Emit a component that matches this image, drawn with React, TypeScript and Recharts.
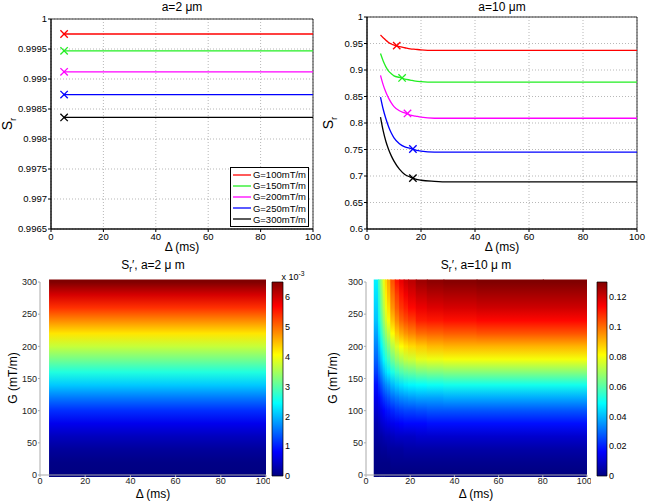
import { ComposedChart, Line, XAxis, YAxis, CartesianGrid, ReferenceArea, ReferenceDot, Legend } from "recharts"

// Delta (ms) sample points for the S_r curves
const DELTA = [5, 6, 7, 8, 9, 10, 12, 14, 16, 18, 20, 25, 30, 40, 60, 80, 100]
const X_TICKS = [0, 20, 40, 60, 80, 100]

const G_LABELS = ["G=100mT/m", "G=150mT/m", "G=200mT/m", "G=250mT/m", "G=300mT/m"]
const G_COLORS = ["#ff0000", "#22ee22", "#ff00ff", "#0000ff", "#000000"]
const KEYS = ["g100", "g150", "g200", "g250", "g300"]

// a = 2 um : flat curves
const SR2_G100 = [0.99975, 0.99975, 0.99975, 0.99975, 0.99975, 0.99975, 0.99975, 0.99975, 0.99975, 0.99975, 0.99975, 0.99975, 0.99975, 0.99975, 0.99975, 0.99975, 0.99975]
const SR2_G150 = [0.99947, 0.99947, 0.99947, 0.99947, 0.99947, 0.99947, 0.99947, 0.99947, 0.99947, 0.99947, 0.99947, 0.99947, 0.99947, 0.99947, 0.99947, 0.99947, 0.99947]
const SR2_G200 = [0.99912, 0.99912, 0.99912, 0.99912, 0.99912, 0.99912, 0.99912, 0.99912, 0.99912, 0.99912, 0.99912, 0.99912, 0.99912, 0.99912, 0.99912, 0.99912, 0.99912]
const SR2_G250 = [0.99874, 0.99874, 0.99874, 0.99874, 0.99874, 0.99874, 0.99874, 0.99874, 0.99874, 0.99874, 0.99874, 0.99874, 0.99874, 0.99874, 0.99874, 0.99874, 0.99874]
const SR2_G300 = [0.99836, 0.99836, 0.99836, 0.99836, 0.99836, 0.99836, 0.99836, 0.99836, 0.99836, 0.99836, 0.99836, 0.99836, 0.99836, 0.99836, 0.99836, 0.99836, 0.99836]
const SR2_MARK_D = [5, 5, 5, 5, 5]
const SR2_MARK_S = [0.99975, 0.99947, 0.99912, 0.99874, 0.99836]
const SR2_TICKS = [0.9965, 0.997, 0.9975, 0.998, 0.9985, 0.999, 0.9995, 1]

// a = 10 um
const SR10_G100 = [0.966, 0.961, 0.956, 0.952, 0.949, 0.947, 0.944, 0.942, 0.94, 0.939, 0.938, 0.937, 0.937, 0.937, 0.937, 0.937, 0.937]
const SR10_G150 = [0.931, 0.917, 0.906, 0.898, 0.893, 0.889, 0.886, 0.883, 0.881, 0.879, 0.878, 0.877, 0.877, 0.877, 0.877, 0.877, 0.877]
const SR10_G200 = [0.89, 0.872, 0.858, 0.847, 0.838, 0.831, 0.823, 0.819, 0.815, 0.813, 0.811, 0.809, 0.809, 0.809, 0.809, 0.809, 0.809]
const SR10_G250 = [0.849, 0.826, 0.808, 0.793, 0.781, 0.772, 0.761, 0.755, 0.752, 0.749, 0.747, 0.745, 0.745, 0.745, 0.745, 0.745, 0.745]
const SR10_G300 = [0.811, 0.785, 0.765, 0.75, 0.738, 0.728, 0.713, 0.703, 0.698, 0.694, 0.692, 0.69, 0.689, 0.689, 0.689, 0.689, 0.689]
const SR10_MARK_D = [11, 13, 15, 17, 17]
const SR10_MARK_S = [0.946, 0.885, 0.818, 0.751, 0.696]
const SR10_TICKS = [0.6, 0.65, 0.7, 0.75, 0.8, 0.85, 0.9, 0.95, 1]

// heat maps: G rows (mT/m)
const G_ROWS = [0, 20, 40, 60, 80, 100, 120, 140, 160, 180, 200, 220, 240, 260, 280, 300]
const G_TICKS = [0, 50, 100, 150, 200, 250, 300]

// S_r', a=2 um (x 1e-3), same for every Delta
const SP2_BY_G = [0, 0.05, 0.18, 0.4, 0.7, 1.1, 1.58, 2.1, 2.64, 3.18, 3.7, 4.22, 4.8, 5.38, 5.95, 6.5]
const SP2_MAX = 6.5
const SP2_CB_TICKS = [0, 1, 2, 3, 4, 5, 6]

// S_r', a=10 um, rows = G_ROWS, columns = SP10_DELTA
const SP10_DELTA = [5, 6, 7, 8, 9, 10, 12, 14, 16, 18, 20, 25, 30, 40, 60, 100]
const SP10_GRID = [
  [0, 0, 0, 0, 0, 0, 0, 0, 0, 0, 0, 0, 0, 0, 0, 0],
  [0.001, 0.001, 0.001, 0.001, 0.001, 0.001, 0.002, 0.002, 0.002, 0.002, 0.002, 0.002, 0.002, 0.002, 0.002, 0.002],
  [0.002, 0.002, 0.003, 0.003, 0.003, 0.004, 0.004, 0.004, 0.004, 0.005, 0.005, 0.005, 0.005, 0.005, 0.005, 0.005],
  [0.004, 0.005, 0.005, 0.006, 0.007, 0.007, 0.008, 0.009, 0.009, 0.009, 0.009, 0.01, 0.01, 0.01, 0.01, 0.01],
  [0.006, 0.008, 0.01, 0.011, 0.012, 0.013, 0.014, 0.015, 0.016, 0.017, 0.017, 0.017, 0.018, 0.018, 0.018, 0.018],
  [0.01, 0.012, 0.014, 0.016, 0.018, 0.019, 0.021, 0.023, 0.024, 0.025, 0.025, 0.026, 0.027, 0.027, 0.027, 0.027],
  [0.014, 0.017, 0.02, 0.023, 0.025, 0.027, 0.03, 0.032, 0.034, 0.035, 0.036, 0.037, 0.037, 0.038, 0.038, 0.038],
  [0.018, 0.023, 0.027, 0.031, 0.034, 0.036, 0.04, 0.043, 0.045, 0.047, 0.048, 0.049, 0.05, 0.051, 0.051, 0.051],
  [0.024, 0.03, 0.035, 0.04, 0.044, 0.047, 0.052, 0.056, 0.059, 0.061, 0.062, 0.064, 0.065, 0.066, 0.066, 0.066],
  [0.029, 0.036, 0.042, 0.048, 0.053, 0.057, 0.063, 0.068, 0.071, 0.074, 0.075, 0.078, 0.079, 0.08, 0.08, 0.08],
  [0.033, 0.041, 0.048, 0.055, 0.06, 0.065, 0.072, 0.077, 0.081, 0.084, 0.086, 0.088, 0.09, 0.091, 0.091, 0.091],
  [0.037, 0.046, 0.055, 0.062, 0.068, 0.073, 0.081, 0.088, 0.092, 0.095, 0.097, 0.1, 0.101, 0.102, 0.103, 0.103],
  [0.041, 0.051, 0.06, 0.068, 0.075, 0.08, 0.089, 0.096, 0.101, 0.104, 0.106, 0.11, 0.111, 0.112, 0.113, 0.113],
  [0.043, 0.054, 0.064, 0.072, 0.079, 0.085, 0.095, 0.102, 0.107, 0.11, 0.113, 0.116, 0.118, 0.119, 0.12, 0.12],
  [0.045, 0.056, 0.066, 0.075, 0.083, 0.089, 0.099, 0.106, 0.111, 0.115, 0.118, 0.121, 0.123, 0.124, 0.125, 0.125],
  [0.047, 0.059, 0.069, 0.078, 0.086, 0.092, 0.103, 0.111, 0.116, 0.12, 0.122, 0.126, 0.128, 0.129, 0.13, 0.13],
]
const SP10_MAX = 0.13
const SP10_CB_TICKS = [0, 0.02, 0.04, 0.06, 0.08, 0.1, 0.12]

const HEAT_TOP = 304
const HEAT_BOTTOM = -3

const FONT = "'Liberation Sans', Arial, Helvetica, sans-serif"

const jet = (t: number) => {
  const c = (v: number) => Math.round(255 * Math.min(1, Math.max(0, v)))
  return `rgb(${c(1.5 - Math.abs(4 * t - 3))},${c(1.5 - Math.abs(4 * t - 2))},${c(1.5 - Math.abs(4 * t - 1))})`
}
// colormap stops, listed top (max) to bottom (0)
const JET_STOPS = [1, 0.875, 0.625, 0.375, 0.125, 0]

const toRows = (series: number[][]) =>
  DELTA.map((d, i) => {
    const row: Record<string, number> = { d }
    KEYS.forEach((k, j) => (row[k] = series[j][i]))
    return row
  })

const rowsA2 = toRows([SR2_G100, SR2_G150, SR2_G200, SR2_G250, SR2_G300])
const rowsA10 = toRows([SR10_G100, SR10_G150, SR10_G200, SR10_G250, SR10_G300])

const Cross = ({ cx, cy, color }: any) => (
  <g stroke={color} strokeWidth={1.3}>
    <line x1={cx - 3.7} y1={cy - 3.7} x2={cx + 3.7} y2={cy + 3.7} />
    <line x1={cx - 3.7} y1={cy + 3.7} x2={cx + 3.7} y2={cy - 3.7} />
  </g>
)

const LegendBox = () => (
  <div style={{ border: "0.8px solid #000", background: "#fff", padding: "1px 2px", fontSize: 9.5, lineHeight: "11.2px" }}>
    {G_LABELS.map((name, i) => (
      <div key={name} style={{ display: "flex", alignItems: "center" }}>
        <svg width={19} height={6} style={{ marginRight: 2 }}>
          <line x1={0} y1={3} x2={19} y2={3} stroke={G_COLORS[i]} strokeWidth={1.3} />
        </svg>
        {name}
      </div>
    ))}
  </div>
)

const Text = ({ x, y, size = 12, rotate = false, children }: any) => (
  <div
    style={{
      position: "absolute",
      left: x,
      top: y,
      transform: `translate(-50%, -50%)${rotate ? " rotate(-90deg)" : ""}`,
      fontSize: size,
      lineHeight: 1,
      whiteSpace: "nowrap",
    }}
  >
    {children}
  </div>
)

function SrChart({ left, rows, domain, ticks, yWidth, right, top, markD, markS, legend }: any) {
  return (
    <div style={{ position: "absolute", left, top: 0 }}>
      <ComposedChart width={323} height={256} data={rows} margin={{ top, right, bottom: 0, left: 6 }}>
        <CartesianGrid stroke="#999" strokeDasharray="1 2" strokeWidth={0.7} />
        <XAxis
          type="number"
          dataKey="d"
          domain={[0, 100]}
          ticks={X_TICKS}
          height={27}
          tickSize={3}
          tickMargin={1}
          stroke="#000"
          tick={{ fontSize: 9.5, fill: "#000" }}
          allowDataOverflow
        />
        <YAxis
          type="number"
          domain={domain}
          ticks={ticks}
          width={yWidth}
          tickSize={3}
          tickMargin={1}
          stroke="#000"
          tick={{ fontSize: 9.5, fill: "#000" }}
          allowDataOverflow
        />
        <ReferenceArea x1={0} x2={100} y1={domain[0]} y2={domain[1]} fill="none" stroke="#000" strokeWidth={0.8} ifOverflow="visible" />
        {KEYS.map((k, i) => (
          <Line
            key={k}
            dataKey={k}
            name={G_LABELS[i]}
            type="monotone"
            stroke={G_COLORS[i]}
            strokeWidth={1.3}
            dot={false}
            isAnimationActive={false}
          />
        ))}
        {markD.map((d: number, i: number) => (
          <ReferenceDot key={i} x={d} y={markS[i]} ifOverflow="visible" shape={(p: any) => <Cross cx={p.cx} cy={p.cy} color={G_COLORS[i]} />} />
        ))}
        {legend && (
          <Legend
            layout="vertical"
            align="center"
            verticalAlign="middle"
            wrapperStyle={{ left: 230, top: 167, width: 79 }}
            content={() => <LegendBox />}
          />
        )}
      </ComposedChart>
    </div>
  )
}

function HeatChart({ left, width, yWidth, id, columns }: any) {
  return (
    <div style={{ position: "absolute", left, top: 256 }}>
      <ComposedChart width={width} height={246} margin={{ top: 26, right: 4, bottom: 0, left: 8 }}>
        <defs>
          {columns.map((c: any, j: number) => (
            <linearGradient key={j} id={`${id}${j}`} x1="0" y1="0" x2="0" y2="1">
              {c.stops.map((s: any, k: number) => (
                <stop key={k} offset={s.offset} stopColor={s.color} />
              ))}
            </linearGradient>
          ))}
        </defs>
        <XAxis
          type="number"
          dataKey="d"
          domain={[0, 100]}
          ticks={X_TICKS}
          height={27}
          tickSize={2}
          tickMargin={1}
          stroke="#aaa"
          tick={{ fontSize: 9, fill: "#222" }}
          allowDataOverflow
        />
        <YAxis
          type="number"
          domain={[0, 300]}
          ticks={G_TICKS}
          width={yWidth}
          tickSize={2}
          tickMargin={1}
          stroke="#aaa"
          tick={{ fontSize: 9, fill: "#222" }}
          allowDataOverflow
        />
        {columns.map((c: any, j: number) => (
          <ReferenceArea
            key={j}
            x1={c.x1}
            x2={c.x2}
            y1={HEAT_BOTTOM}
            y2={HEAT_TOP}
            fill={`url(#${id}${j})`}
            fillOpacity={1}
            stroke="none"
            ifOverflow="visible"
          />
        ))}
      </ComposedChart>
    </div>
  )
}

function ColorBar({ left, width, yWidth, max, ticks, id }: any) {
  return (
    <div style={{ position: "absolute", left, top: 256 }}>
      <ComposedChart width={width} height={246} margin={{ top: 26, right: 1, bottom: 26, left: 10 }}>
        <defs>
          <linearGradient id={id} x1="0" y1="0" x2="0" y2="1">
            {JET_STOPS.map((t) => (
              <stop key={t} offset={1 - t} stopColor={jet(t)} />
            ))}
          </linearGradient>
        </defs>
        <XAxis type="number" dataKey="x" domain={[0, 1]} height={0} axisLine={false} tickLine={false} tick={false} allowDataOverflow />
        <YAxis
          type="number"
          orientation="right"
          domain={[0, max]}
          ticks={ticks}
          width={yWidth}
          tickSize={0}
          tickMargin={2}
          axisLine={false}
          tick={{ fontSize: 9, fill: "#000" }}
          allowDataOverflow
        />
        <ReferenceArea x1={0} x2={1} y1={0} y2={max} fill={`url(#${id})`} fillOpacity={1} stroke="#000" strokeWidth={0.7} ifOverflow="visible" />
      </ComposedChart>
    </div>
  )
}

// gradient stops must run top (G max) to bottom (G = 0)
const gStops = (values: number[], max: number) =>
  G_ROWS.map((g, i) => ({
    offset: (HEAT_TOP - g) / (HEAT_TOP - HEAT_BOTTOM),
    color: jet(values[i] / max),
  })).reverse()

const heatA2 = [{ x1: 4, x2: 100, stops: gStops(SP2_BY_G, SP2_MAX) }]

// each column reaches a little into the next one so no seams show
const heatA10 = SP10_DELTA.map((d, j) => ({
  x1: j === 0 ? 3.5 : (SP10_DELTA[j - 1] + d) / 2,
  x2: j === SP10_DELTA.length - 1 ? 100 : (SP10_DELTA[j + 1] + d) / 2 + 0.5,
  stops: gStops(
    SP10_GRID.map((row) => row[j]),
    SP10_MAX
  ),
}))

const Sr = () => (
  <span>
    S<sub style={{ fontSize: "0.7em" }}>r</sub>
  </span>
)

export default function App() {
  return (
    <div style={{ position: "absolute", left: 0, top: 0, width: 646, height: 502, background: "#fff", fontFamily: FONT, color: "#000", overflow: "hidden" }}>
      <SrChart left={0} rows={rowsA2} domain={[0.9965, 1]} ticks={SR2_TICKS} yWidth={45} right={10} top={19} markD={SR2_MARK_D} markS={SR2_MARK_S} legend />
      <SrChart left={323} rows={rowsA10} domain={[0.6, 1]} ticks={SR10_TICKS} yWidth={38} right={9} top={17} markD={SR10_MARK_D} markS={SR10_MARK_S} />
      <HeatChart left={0} width={270} yWidth={32} id="hmA" columns={heatA2} />
      <HeatChart left={323} width={268} yWidth={35} id="hmB" columns={heatA10} />
      <ColorBar left={262} width={50} yWidth={28} max={SP2_MAX} ticks={SP2_CB_TICKS} id="cbA" />
      <ColorBar left={587} width={59} yWidth={38} max={SP10_MAX} ticks={SP10_CB_TICKS} id="cbB" />

      <Text x={182} y={7}>a=2 μm</Text>
      <Text x={502} y={7}>a=10 μm</Text>
      <Text x={182} y={247}>Δ (ms)</Text>
      <Text x={502} y={247}>Δ (ms)</Text>
      <Text x={9} y={124} size={14} rotate><Sr /></Text>
      <Text x={330} y={123} size={14} rotate><Sr /></Text>

      <Text x={153} y={266}>S<sub style={{ fontSize: "0.7em" }}>r</sub>′, a=2 μ m</Text>
      <Text x={476} y={266}>S<sub style={{ fontSize: "0.7em" }}>r</sub>′, a=10 μ m</Text>
      <Text x={153} y={494}>Δ (ms)</Text>
      <Text x={476} y={494}>Δ (ms)</Text>
      <Text x={13} y={378} rotate>G (mT/m)</Text>
      <Text x={333} y={378} rotate>G (mT/m)</Text>
      <Text x={293} y={276} size={9}>x 10<sup style={{ fontSize: "0.75em" }}>-3</sup></Text>
    </div>
  )
}
